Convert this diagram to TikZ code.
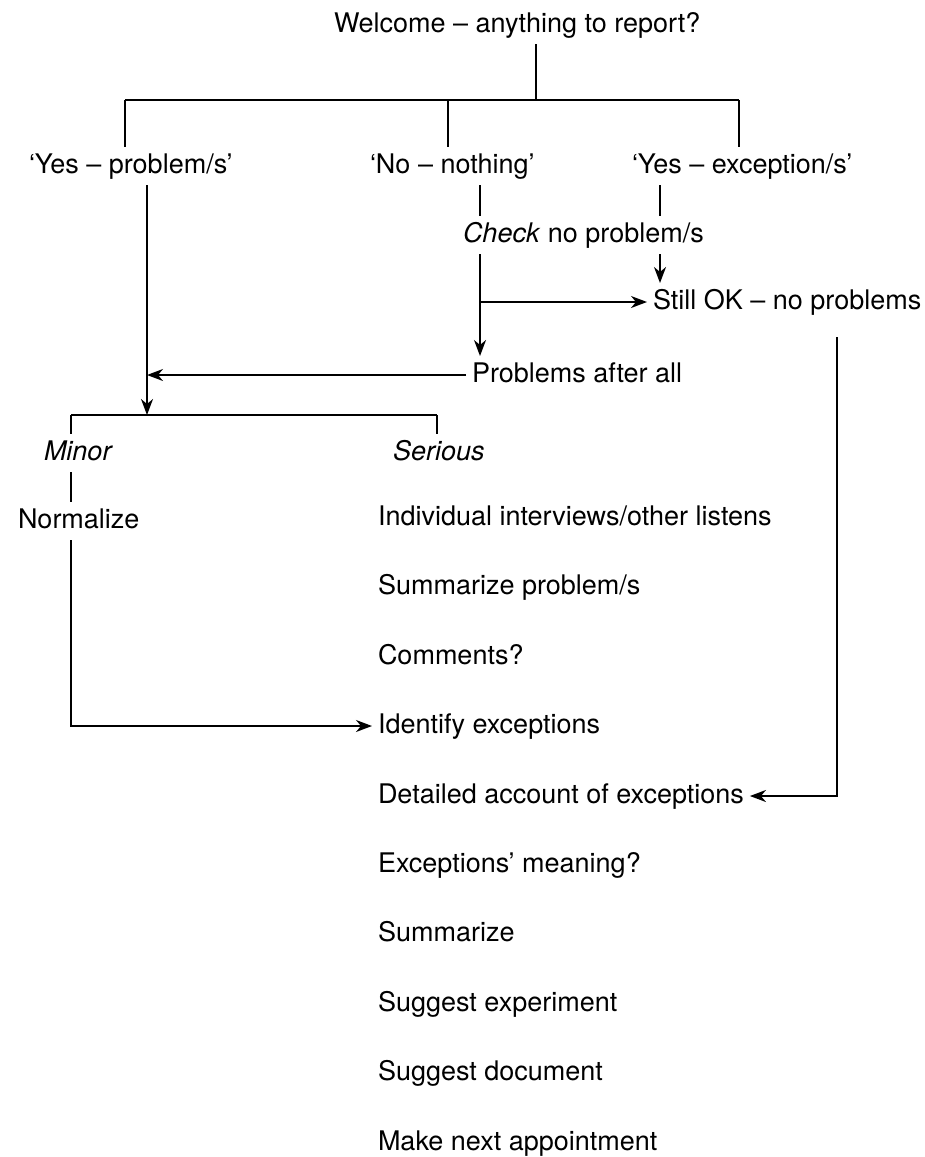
\documentclass[tikz,border=0pt]{standalone}
\usepackage{fontspec}
\setmainfont{TeX Gyre Heros}
\usetikzlibrary{arrows.meta}

\begin{document}
\begin{tikzpicture}[x=1pt,y=-1pt]
        \useasboundingbox (0,0) rectangle (925,1157);
        \begin{scope}[every node/.style={anchor=base west, inner sep=0pt, outer sep=6pt, text height=20pt, text depth=6pt, font=\fontsize{27}{32}\selectfont}]
                \node (welcome) at (328,32) {Welcome – anything to report?};
                \node (yesprob) at (23,173) {‘Yes – problem/s’};
                \node (nothing) at (364,173) {‘No – nothing’};
                \node (yesexc) at (626,173) {‘Yes – exception/s’};
                \node (check) at (457,242) {\textit{Check} no problem/s};
                \node (stillok) at (647,309) {Still OK – no problems};
                \node (afterall) at (466,382) {Problems after all};
                \node (minor) at (38,460) {\textit{Minor}};
                \node (serious) at (387,460) {\textit{Serious}};
                \node (normalize) at (12,528) {Normalize};
                \node (interviews) at (372,525) {Individual interviews/other listens};
                \node (sumprob) at (372,594) {Summarize problem/s};
                \node (comments) at (372,664) {Comments?};
                \node (identify) at (372,733) {Identify exceptions};
                \node (detailed) at (372,803) {Detailed account of exceptions};
                \node (meaning) at (372,872) {Exceptions’ meaning?};
                \node (summarize) at (372,941) {Summarize};
                \node (experiment) at (372,1011) {Suggest experiment};
                \node (document) at (372,1080) {Suggest document};
                \node (appointment) at (372,1150) {Make next appointment};
        \end{scope}
        % junctions of the bars and columns
        \coordinate (barL) at (125,100);
        \coordinate (barM) at (448,100);
        \coordinate (barR) at (739,100);
        \coordinate (top) at (536,100);
        \coordinate (colA) at (147,415);
        \coordinate (colB) at (480,302);
        \coordinate (colC) at (660,0);
        \coordinate (colD) at (837,0);
        \coordinate (lowL) at (71,415);
        \coordinate (lowR) at (437,415);
        \begin{scope}[every path/.style={line width=1.6pt, >={Stealth[length=16pt,width=12pt,inset=5pt]}}]
                \draw (welcome.south -| top) -- (top);
                \draw (barL) -- (barR);
                \draw (barL) -- (barL |- yesprob.north);
                \draw (barM) -- (barM |- nothing.north);
                \draw (barR) -- (barR |- yesexc.north);
                \draw[->] (yesprob.south -| colA) -- (colA);
                \draw (nothing.south -| colB) -- (check.north -| colB);
                \draw (yesexc.south -| colC) -- (check.north -| colC);
                \draw[->] (check.south -| colC) -- (stillok.north -| colC);
                \draw[->] (check.south -| colB) -- (afterall.north -| colB);
                \draw[->] (colB |- stillok.west) -- (stillok.west);
                \draw[->] (afterall.west) -- (afterall.west -| colA);
                \draw[->, shorten <=16pt] (stillok.south -| colD) -- (colD |- detailed.east) -- (detailed.east);
                \draw (lowL) -- (lowR);
                \draw (lowL) -- (lowL |- minor.north);
                \draw (lowR) -- (lowR |- serious.north);
                \draw (minor.south -| lowL) -- (normalize.north -| lowL);
                \draw[->] (normalize.south -| lowL) -- (lowL |- identify.west) -- (identify.west);
        \end{scope}
\end{tikzpicture}
\end{document}
